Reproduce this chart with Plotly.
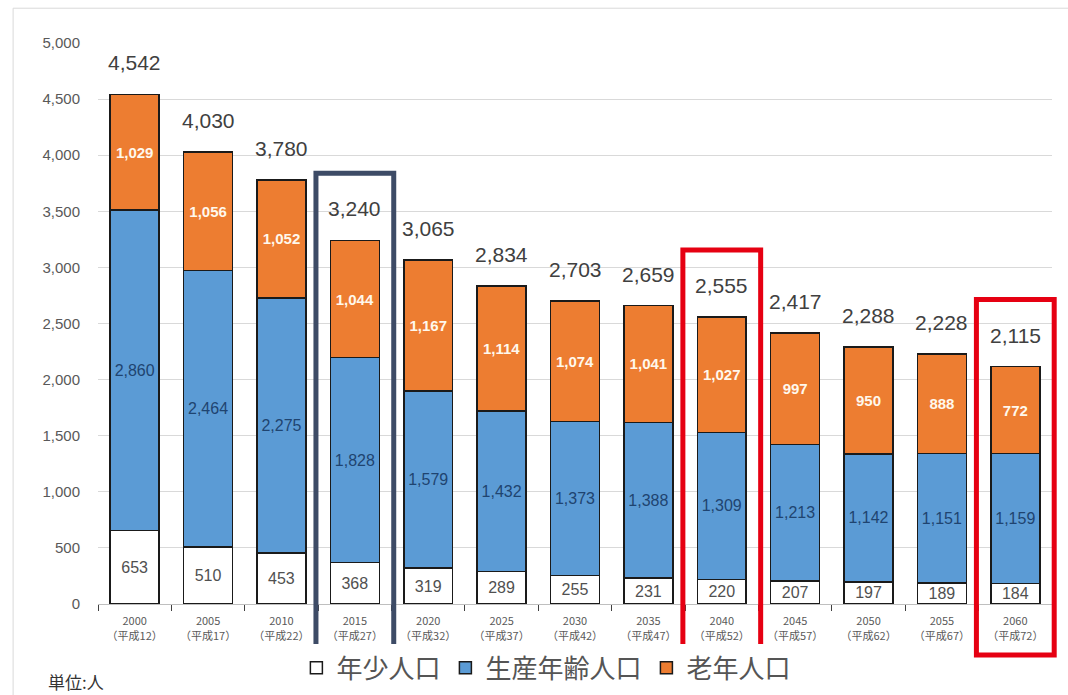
import plotly.graph_objects as go

years = ["2000", "2005", "2010", "2015", "2020", "2025", "2030", "2035", "2040", "2045", "2050", "2055", "2060"]
heisei = ["平成12", "平成17", "平成22", "平成27", "平成32", "平成37", "平成42", "平成47", "平成52", "平成57", "平成62", "平成67", "平成72"]
youth = [653, 510, 453, 368, 319, 289, 255, 231, 220, 207, 197, 189, 184]
working = [2860, 2464, 2275, 1828, 1579, 1432, 1373, 1388, 1309, 1213, 1142, 1151, 1159]
elderly = [1029, 1056, 1052, 1044, 1167, 1114, 1074, 1041, 1027, 997, 950, 888, 772]
totals = [4542, 4030, 3780, 3240, 3065, 2834, 2703, 2659, 2555, 2417, 2288, 2228, 2115]
series_names = ["年少人口", "生産年齢人口", "老年人口"]
unit_label = "単位:人"
highlight_dark = ["2015"]
highlight_red = ["2040", "2060"]

cats = [f"{y}<br>（{h}）" for y, h in zip(years, heisei)]

FONT = "Liberation Sans, Arial, Noto Sans CJK JP, sans-serif"
JP_FONT = "Noto Sans CJK JP, sans-serif"
OUTLINE = dict(color="#1a1a1a", width=1.5)

fig = go.Figure()
fig.add_bar(
    x=cats, y=youth, name=series_names[0],
    marker=dict(color="#FFFFFF", line=OUTLINE),
    text=[f"{v:,}" for v in youth], textposition="inside", insidetextanchor="middle",
    textangle=0, constraintext="none",
    insidetextfont=dict(color="#505050", size=16, family=FONT),
)
fig.add_bar(
    x=cats, y=working, name=series_names[1],
    marker=dict(color="#5B9BD5", line=OUTLINE),
    text=[f"{v:,}" for v in working], textposition="inside", insidetextanchor="middle",
    textangle=0, constraintext="none",
    insidetextfont=dict(color="#1F4470", size=16, family=FONT),
)
fig.add_bar(
    x=cats, y=elderly, name=series_names[2],
    marker=dict(color="#ED7D31", line=OUTLINE),
    text=[f"<b>{v:,}</b>" for v in elderly], textposition="inside", insidetextanchor="middle",
    textangle=0, constraintext="none",
    insidetextfont=dict(color="#FFF8EC", size=15, family=FONT),
)

for c, t in zip(cats, totals):
    fig.add_annotation(
        x=c, y=t, xref="x", yref="y", text=f"{t:,}", showarrow=False,
        yanchor="bottom", yshift=18, font=dict(size=21, color="#404040", family=FONT),
    )

n = len(years)
YMAX = 5000
BOX_TOP_PAD = 600
BOX_BOTTOM = -455
shapes = []
for yr, col in [(y, "#3D4B66") for y in highlight_dark] + [(y, "#E60012") for y in highlight_red]:
    i = years.index(yr)
    shapes.append(dict(
        type="rect", xref="paper", yref="paper",
        x0=(i + 0.5 - 0.53) / n, x1=(i + 0.5 + 0.53) / n,
        y0=BOX_BOTTOM / YMAX, y1=(totals[i] + BOX_TOP_PAD) / YMAX,
        line=dict(color=col, width=5), fillcolor="rgba(0,0,0,0)", layer="above",
    ))
# outer frame
shapes.append(dict(type="rect", xref="paper", yref="paper",
                   x0=-0.089, x1=1.1, y0=-0.3, y1=1.062,
                   line=dict(color="#D9D9D9", width=1), fillcolor="rgba(0,0,0,0)"))

fig.add_annotation(
    xref="paper", yref="paper", x=-0.054, y=-0.138, xanchor="left", yanchor="middle",
    text=unit_label, showarrow=False, font=dict(size=17, color="#333333", family=JP_FONT),
)

fig.update_layout(
    width=1068, height=695,
    margin=dict(l=98, r=16, t=43, b=91, autoexpand=False),
    paper_bgcolor="white", plot_bgcolor="white",
    barmode="stack", bargap=0.333,
    shapes=shapes,
    font=dict(family=FONT, color="#404040"),
    legend=dict(
        orientation="h", x=0.47, xanchor="center", y=-0.114, yanchor="middle",
        font=dict(size=26, color="#555555", family=JP_FONT),
        traceorder="normal", itemwidth=30,
    ),
    showlegend=True,
)
fig.update_xaxes(
    type="category", showgrid=False, showline=True, linecolor="#BFBFBF", linewidth=1,
    ticks="outside", tickson="boundaries", ticklen=6, tickcolor="#404040",
    tickfont=dict(size=11, color="#595959", family=JP_FONT),
    ticklabelstandoff=7, automargin=False,
)
fig.update_yaxes(
    range=[0, YMAX], dtick=500, tickformat=",", showgrid=True, gridcolor="#D9D9D9",
    zeroline=False, tickfont=dict(size=15, color="#595959", family=FONT),
    ticklabelstandoff=17, automargin=False,
)

fig.write_html(
    "out.html",
    config={"displayModeBar": False},
    post_script="document.body.style.margin='0';document.body.style.overflow='hidden';",
)
